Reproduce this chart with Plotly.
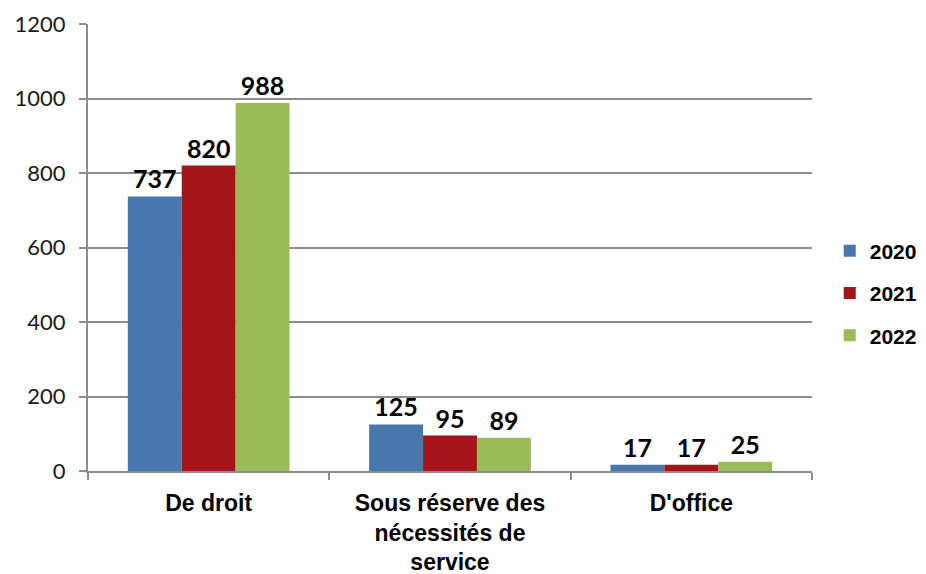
import plotly.graph_objects as go

categories = ["De droit", "Sous réserve des<br>nécessités de<br>service", "D'office"]
years = ["2020", "2021", "2022"]
values_2020 = [737, 125, 17]
values_2021 = [820, 95, 17]
values_2022 = [988, 89, 25]
colors = ["#4a76ae", "#a5141b", "#9bbb59"]

series = [values_2020, values_2021, values_2022]

fig = go.Figure()
for name, vals, col in zip(years, series, colors):
    fig.add_trace(go.Bar(
        x=categories, y=vals, name="<b>" + name + "</b>", legendgroup=name,
        marker=dict(color=col, line=dict(width=0)),
        text=[str(v) for v in vals], textposition="outside",
        textfont=dict(family="Lato, Open Sans, sans-serif", size=25, color="#000"),
        texttemplate="<b>%{text}</b>", cliponaxis=False,
    ))

# the page body has an 8px margin, so the figure is offset by 8px
fig.update_layout(
    width=918, height=566,
    margin=dict(l=80, r=114, t=16, b=103, autoexpand=False),
    paper_bgcolor="white", plot_bgcolor="white",
    barmode="group", bargap=0.33, bargroupgap=0,
    showlegend=True,
    legend=dict(x=1.0245, y=0.398, xanchor="left", yanchor="middle",
                font=dict(family="Liberation Sans, Arial, sans-serif", size=21, color="#000"),
                tracegroupgap=12, itemsizing="constant", traceorder="grouped"),
    font=dict(family="Lato, sans-serif", color="#222"),
)
fig.update_yaxes(
    range=[0, 1200], dtick=200, showgrid=True, gridcolor="#8c8c8c", gridwidth=2,
    showline=True, linecolor="#8c8c8c", linewidth=2,
    ticks="outside", ticklen=7, tickcolor="#8c8c8c", tickwidth=2,
    tickfont=dict(family="Lato, sans-serif", size=22, color="#1a1a1a"),
    ticklabelstandoff=9,
    zeroline=False, fixedrange=True, automargin=False,
)
fig.update_xaxes(
    showline=True, linecolor="#8c8c8c", linewidth=2,
    ticks="outside", tickson="boundaries", ticklen=7, tickcolor="#8c8c8c", tickwidth=2,
    tickfont=dict(family="Liberation Sans, Arial, sans-serif", size=23, color="#000"),
    tickprefix="<b>", ticksuffix="</b>",
    ticklabelstandoff=10, automargin=False,
)

fig.write_html("out.html")
